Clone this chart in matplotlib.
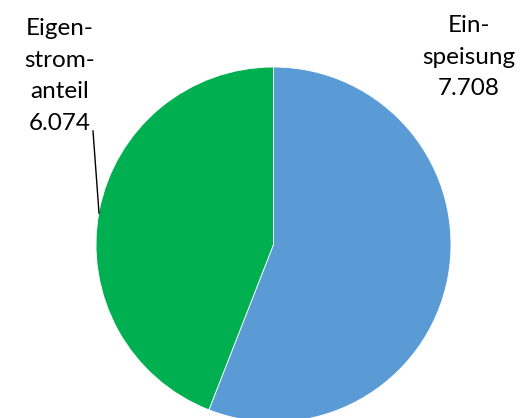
import matplotlib
matplotlib.use("Agg")
import matplotlib.pyplot as plt

labels = ["Ein-\nspeisung", "Eigen-\nstrom-\nanteil"]
values = [7.708, 6.074]
value_text = ["7.708", "6.074"]
colors = ["#5B9BD5", "#00B050"]

W, H = 524, 418
fig = plt.figure(figsize=(W / 100, H / 100), dpi=100)
ax = fig.add_axes([0, 0, 1, 1])

cx, cy, r = 273.5, H - 244.5, 177.5
ax.pie(values, colors=colors, startangle=90, counterclock=False,
       center=(cx, cy), radius=r, frame=True,
       wedgeprops=dict(linewidth=0.6, edgecolor="white"))
ax.set_xlim(0, W)
ax.set_ylim(0, H)
ax.set_aspect("equal")
ax.axis("off")

font = dict(family=["Lato", "DejaVu Sans"], fontsize=17.5, color="#000000",
            ha="center", va="center", linespacing=1.62)
ax.text(469, H - 57, labels[0] + "\n" + value_text[0], **font)
ax.text(60, H - 76, labels[1] + "\n" + value_text[1], **font)
ax.plot([93, 99], [H - 131, H - 213], color="black", lw=1)

fig.savefig("out.png", dpi=100)
